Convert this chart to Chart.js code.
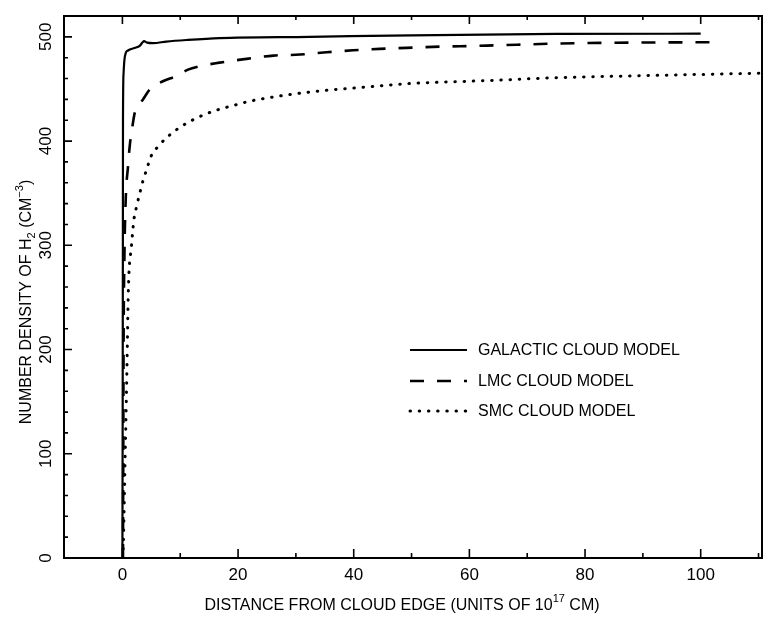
<!DOCTYPE html>
<html>
<head>
<meta charset="utf-8">
<script src="https://cdn.jsdelivr.net/npm/chart.js@4.4.1/dist/chart.umd.min.js"></script>
<style>
  html, body { margin: 0; padding: 0; background: #fff; }
  #wrap { width: 765px; height: 617px; }
</style>
</head>
<body>
<div id="wrap"><canvas id="h2Chart" width="765" height="617"></canvas></div>
<script>
// H2 density profiles vs distance from cloud edge (units of 1e17 cm)

const galX = [0, 0.05, 0.08, 0.1, 0.2, 0.35, 0.57, 0.97, 2.1, 3.0, 3.46, 3.74, 4.26, 5.3, 7.6, 11.1, 16.8, 32.4, 50, 75, 100]
const galY = [0, 150, 300, 420, 465, 478, 484.4, 486.9, 489.2, 491.4, 494.5, 495.9, 494.5, 494, 495.5, 497, 498.8, 500, 501.5, 502.8, 503]

const lmcX = [0.1, 0.15, 0.2, 0.35, 0.57, 0.97, 1.26, 1.73, 2.13, 2.53, 3.56, 4.72, 7.0, 9.3, 11.35, 13.4, 16.5, 21.5, 26.1, 30.7, 35.3, 39.9, 44.5, 49.1, 53.7, 58.4, 63, 75, 88, 101.9]
const lmcY = [0, 100, 200, 290, 343.8, 375.7, 395, 414, 427, 432, 440, 449.4, 457.4, 462.2, 468.6, 471.8, 475, 478.9, 482, 483, 485.2, 487.1, 488.5, 489.4, 490.4, 491, 491.6, 493.5, 494.5, 494.8]

const smcX = [0.05, 0.15, 0.45, 0.75, 1.05, 1.56, 2.0, 2.4, 2.87, 3.56, 4.15, 5.0, 6.2, 7.6, 9.9, 12.8, 15.7, 19.1, 22, 26.9, 33.6, 41.6, 49.7, 57.8, 64.4, 74, 90.5, 111]
const smcY = [0, 10.9, 91, 171, 260.5, 299, 325, 336, 347, 362, 372, 386, 395, 403, 413, 422, 428.6, 434, 438.2, 443, 447.8, 451.6, 455.2, 457, 458.3, 460.6, 462.8, 465.2]

const seriesNames = ["GALACTIC CLOUD MODEL", "LMC CLOUD MODEL", "SMC CLOUD MODEL"]

const xMajor = [0, 20, 40, 60, 80, 100]
const xMinor = [10, 30, 50, 70, 90, 110]
const yMajor = [0, 100, 200, 300, 400, 500]
const yMinor = [20, 40, 60, 80, 120, 140, 160, 180, 220, 240, 260, 280, 320, 340, 360, 380, 420, 440, 460, 480]

const pts = (xs, ys) => xs.map((x, i) => ({ x: x, y: ys[i] }))

const FONT = "'Liberation Sans', Arial, sans-serif"

// draws text runs with sub/superscripts, returns width
function richText(ctx, runs, x, y, size, measureOnly) {
  let w = 0
  runs.forEach(r => {
    const s = r.sub || r.sup ? Math.round(size * 0.68) : size
    ctx.font = s + "px " + FONT
    const dy = r.sub ? size * 0.3 : r.sup ? -size * 0.42 : 0
    if (!measureOnly) ctx.fillText(r.t, x + w, y + dy)
    w += ctx.measureText(r.t).width
  })
  return w
}

const framePlugin = {
  id: "frame",
  afterDraw(chart) {
    const ctx = chart.ctx
    const a = chart.chartArea
    const xs = chart.scales.x, ys = chart.scales.y
    ctx.save()
    ctx.strokeStyle = "#000"
    ctx.fillStyle = "#000"
    ctx.lineWidth = 2
    ctx.strokeRect(a.left, a.top, a.right - a.left, a.bottom - a.top)

    // inward ticks: bottom, top, left
    ctx.lineWidth = 1.6
    ctx.beginPath()
    xMajor.concat(xMinor).forEach(v => {
      const len = xMajor.includes(v) ? 9 : 5
      const px = xs.getPixelForValue(v)
      ctx.moveTo(px, a.bottom); ctx.lineTo(px, a.bottom - len)
      ctx.moveTo(px, a.top); ctx.lineTo(px, a.top + len - 1)
    })
    yMajor.concat(yMinor).forEach(v => {
      const len = yMajor.includes(v) ? 8 : 4
      const py = ys.getPixelForValue(v)
      ctx.moveTo(a.left, py); ctx.lineTo(a.left + len, py)
    })
    ctx.stroke()

    // tick labels
    ctx.font = "17px " + FONT
    ctx.textAlign = "center"
    ctx.textBaseline = "middle"
    xMajor.forEach(v => ctx.fillText(String(v), xs.getPixelForValue(v), 575))
    yMajor.forEach(v => {
      ctx.save()
      ctx.translate(45, ys.getPixelForValue(v))
      ctx.rotate(-Math.PI / 2)
      ctx.fillText(String(v), 0, 1)
      ctx.restore()
    })

    // axis titles
    ctx.textAlign = "left"
    const xTitle = [{ t: "DISTANCE FROM CLOUD EDGE (UNITS OF 10" }, { t: "17", sup: true }, { t: " CM)" }]
    const xw = richText(ctx, xTitle, 0, 0, 16, true)
    richText(ctx, xTitle, 402 - xw / 2, 606, 16)

    const yTitle = [{ t: "NUMBER DENSITY OF H" }, { t: "2", sub: true }, { t: " (CM" }, { t: "\u22123", sup: true }, { t: ")" }]
    const yw = richText(ctx, yTitle, 0, 0, 16, true)
    ctx.save()
    ctx.translate(27, 302)
    ctx.rotate(-Math.PI / 2)
    richText(ctx, yTitle, -yw / 2, 0, 16)
    ctx.restore()

    // legend
    const rows = [350, 381, 411]
    chart.data.datasets.forEach((ds, i) => {
      ctx.save()
      ctx.strokeStyle = "#000"
      ctx.lineWidth = ds.borderWidth
      ctx.lineCap = ds.borderCapStyle || "butt"
      ctx.setLineDash(ds.borderDash || [])
      ctx.beginPath()
      ctx.moveTo(410, rows[i]); ctx.lineTo(467, rows[i])
      ctx.stroke()
      ctx.restore()
      ctx.font = "16px " + FONT
      ctx.textBaseline = "middle"
      ctx.fillText(ds.label, 478, rows[i] + 1)
    })
    ctx.restore()
  }
}

new Chart(document.getElementById("h2Chart"), {
  type: "scatter",
  data: {
    datasets: [
      {
        label: seriesNames[0],
        data: pts(galX, galY),
        showLine: true,
        borderColor: "#000",
        borderWidth: 2.2,
        pointRadius: 0,
        cubicInterpolationMode: "monotone"
      },
      {
        label: seriesNames[1],
        data: pts(lmcX, lmcY),
        showLine: true,
        borderColor: "#000",
        borderWidth: 2.6,
        borderDash: [14, 13],
        pointRadius: 0,
        cubicInterpolationMode: "monotone"
      },
      {
        label: seriesNames[2],
        data: pts(smcX, smcY),
        showLine: true,
        borderColor: "#000",
        borderWidth: 3,
        borderDash: [0.5, 8.7],
        borderCapStyle: "round",
        pointRadius: 0,
        cubicInterpolationMode: "monotone"
      }
    ]
  },
  options: {
    responsive: false,
    animation: false,
    events: [],
    layout: { padding: { left: 64, top: 16, right: 3, bottom: 59 } },
    plugins: { legend: { display: false }, tooltip: { enabled: false } },
    scales: {
      x: { type: "linear", min: -10.1, max: 110.6, display: false },
      y: { type: "linear", min: 0, max: 520, display: false }
    }
  },
  plugins: [framePlugin]
})
</script>
</body>
</html>
